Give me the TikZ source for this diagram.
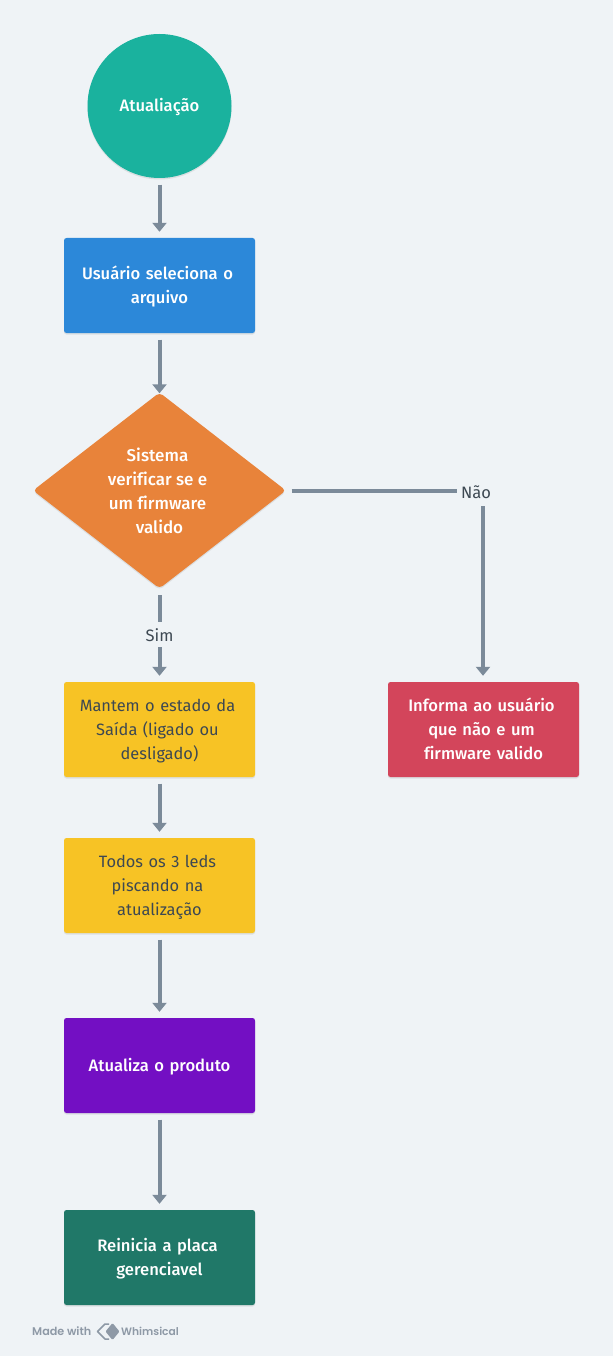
\documentclass[tikz,border=0pt]{standalone}
\usepackage{fontspec}
\setmainfont{Fira Sans}[UprightFont=* Medium,BoldFont=* SemiBold,Ligatures=NoCommon]
\newfontfamily\plainfont{Fira Sans}[Ligatures=NoCommon]
\newfontfamily\markfont{Poppins}[UprightFont=* SemiBold]
\usetikzlibrary{shapes.geometric,arrows.meta,shadows}
\newcommand{\wrapbr}{\rule{4pt}{0pt}\\}
\definecolor{pagebg}{HTML}{EFF3F6}
\definecolor{linec}{HTML}{7B8A99}
\definecolor{darktext}{HTML}{3D4852}
\definecolor{teal1}{HTML}{1AB29E}
\definecolor{blue1}{HTML}{2C88D9}
\definecolor{orange1}{HTML}{E8833A}
\definecolor{yellow1}{HTML}{F7C325}
\definecolor{red1}{HTML}{D3455B}
\definecolor{purple1}{HTML}{730FC3}
\definecolor{green1}{HTML}{207868}
\definecolor{markc}{HTML}{8E99A6}
\tikzset{
  softshadow/.style={drop shadow={shadow xshift=0pt,shadow yshift=-1.5pt,opacity=.14,fill=black!60}},
  textrules/.style={inner sep=0pt,align=center,font=\fontsize{16.6}{24}\selectfont,
    execute at begin node={\rule{0pt}{15pt}},execute at end node={\rule[-3pt]{0pt}{3pt}}},
  basenode/.style={textrules,softshadow},
  boxnode/.style={basenode,rectangle,rounded corners=2.5pt,minimum width=191pt,minimum height=95pt,text width=175pt},
  lightbox/.style={boxnode,text=white},
  darkbox/.style={boxnode,text=darktext,font=\plainfont\fontsize{16.4}{24}\selectfont},
  conn/.style={draw=linec,line width=4pt,shorten <=6.5pt},
  arrowconn/.style={conn,shorten >=6pt,-{Triangle[length=9pt,width=14pt]}},
  edgelabel/.style={fill=pagebg,inner sep=0pt,text=darktext,font=\plainfont\fontsize{16.5}{24}\selectfont},
}
\begin{document}
\begin{tikzpicture}[x=1pt,y=-1pt]
\useasboundingbox (0,0) rectangle (613,1356);
\fill[pagebg] (0,0) rectangle (613,1356);
\node[basenode,circle,fill=teal1,text=white,minimum size=144pt] (start) at (159.5,106) {Atualiação};
\node[lightbox,fill=blue1] (sel) at (159.5,285.5) {Usuário seleciona o\wrapbr arquivo};
\node[softshadow,diamond,fill=orange1,inner sep=0pt,rounded corners=4pt,aspect=1.3,minimum width=253pt,minimum height=196pt] (chk) at (159.5,490.5) {};
\node[textrules,text=white,font=\fontsize{17}{24}\selectfont] (chktext) at (159.5,492.5) {Sistema\wrapbr verificar se e\wrapbr um firmware\wrapbr valido};
\node[darkbox,fill=yellow1] (keep) at (159.5,729.5) {Mantem o estado da\wrapbr Saída (ligado ou\wrapbr desligado)};
\node[darkbox,fill=yellow1] (leds) at (159.5,885.5) {Todos os 3 leds\wrapbr piscando na\wrapbr atualização};
\node[lightbox,fill=purple1] (upd) at (159.5,1065.5) {Atualiza o produto};
\node[lightbox,fill=green1] (rst) at (159.5,1257.5) {Reinicia a placa\wrapbr gerenciavel};
\node[lightbox,fill=red1] (info) at (483.5,729.5) {Informa ao usuário\wrapbr que não e um\wrapbr firmware valido};
\coordinate (corner) at (483,490.5);
\draw[arrowconn] (start) -- (sel);
\draw[arrowconn,shorten >=-1pt] (sel) -- (chk);
\draw[arrowconn] (keep) -- (leds);
\draw[arrowconn] (leds) -- (upd);
\draw[arrowconn] (upd) -- (rst);
\draw[arrowconn] (chk) -- node[edgelabel,minimum width=60pt,minimum height=25pt,pos=.5,yshift=0.5pt] (sim) {Sim} (keep);
\draw[conn,shorten <=5.5pt] (chk.east) -- (corner);
\draw[arrowconn,shorten <=0pt] (corner) -- (corner |- info.north);
\node[edgelabel,minimum width=38pt,minimum height=27pt] (nao) at (476,492.5) {Não};
\node[inner sep=0pt,text=markc,font=\markfont\fontsize{11.2}{13}\selectfont,anchor=west] (made) at (32,1331) {Made with};
\node[inner sep=0pt,text=markc,font=\markfont\fontsize{10.7}{13}\selectfont,anchor=west] (whim) at (121,1331) {Whimsical};
\draw[markc,line width=1.5pt,line join=round] (109,1324) -- (105,1324) -- (97.5,1331.5) -- (105,1339) -- (109,1339);
\fill[markc,rounded corners=1pt] (112.5,1323) -- (119.5,1331.5) -- (112.5,1340) -- (105.5,1331.5) -- cycle;
\end{tikzpicture}
\end{document}
